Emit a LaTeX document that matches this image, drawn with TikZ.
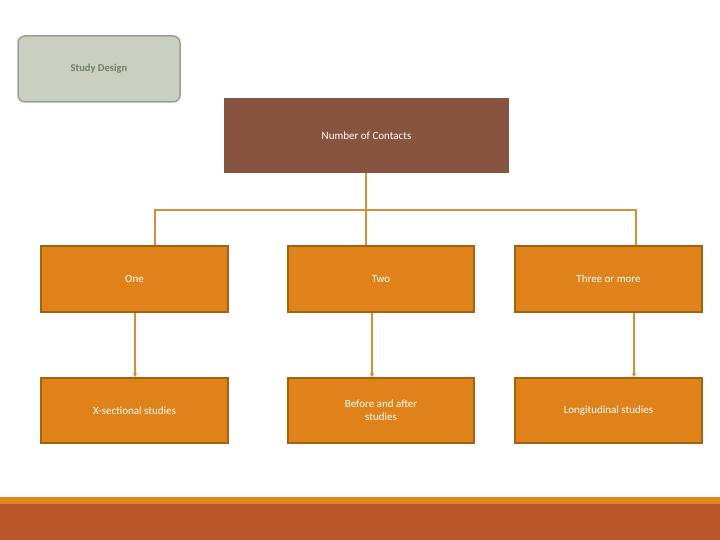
\documentclass[tikz,border=0pt]{standalone}
\usepackage{fontspec}
\setmainfont{Carlito}
\usetikzlibrary{arrows.meta}
\definecolor{topc}{HTML}{87553F}
\definecolor{orf}{HTML}{E0821A}
\definecolor{orb}{HTML}{A2620F}
\definecolor{conn}{HTML}{D0913A}
\definecolor{band}{HTML}{B9572A}
\definecolor{bandl}{HTML}{E0861A}
\definecolor{sdf}{HTML}{C9D0C2}
\definecolor{sdb}{HTML}{9A9E90}
\definecolor{sdt}{HTML}{6F7F62}
\begin{document}
\begin{tikzpicture}[x=1pt,y=-1pt,
  obox/.style={draw=orb,line width=1.5pt,fill=orf,text=white,font=\fontsize{11}{13}\selectfont,align=center,inner sep=0pt},
  conline/.style={draw=conn,line width=1.3pt},
  arr/.style={conline,-{Triangle[length=4pt,width=4pt]}}]
\useasboundingbox (0,0) rectangle (720,540);
\node[draw=sdb,line width=1.5pt,fill=sdf,rounded corners=7pt,minimum width=162pt,minimum height=66pt,text=sdt,font=\bfseries\fontsize{10.5}{12}\selectfont] (sd) at (99,69) {Study Design};
\node[fill=topc,text=white,minimum width=285pt,minimum height=75pt,font=\fontsize{11}{13}\selectfont] (top) at (366.5,135.5) {Number of Contacts};
\node[obox,minimum width=187pt,minimum height=66pt] (one) at (134.5,279) {One};
\node[obox,minimum width=186pt,minimum height=66pt] (two) at (381,279) {Two};
\node[obox,minimum width=187pt,minimum height=66pt] (three) at (608.5,279) {Three or more};
\node[obox,minimum width=187pt,minimum height=65pt] (xs) at (134.5,410.5) {X-sectional studies};
\node[obox,minimum width=186pt,minimum height=65pt] (ba) at (381,410.5) {Before and after\\studies};
\node[obox,minimum width=187pt,minimum height=65pt] (lo) at (608.5,410.5) {Longitudinal studies};
\coordinate (hl) at (155,210);
\coordinate (hr) at (636,210);
\draw[conline] (top.south -| 366,0) -- (two.north -| 366,0);
\draw[conline] (one.north -| hl) -- (hl) -- (hr) -- (three.north -| hr);
\draw[arr] (one.south -| 135,0) -- (xs.north -| 135,0);
\draw[arr] (two.south -| 372,0) -- (ba.north -| 372,0);
\draw[arr] (three.south -| 634,0) -- (lo.north -| 634,0);
\fill[bandl] (0,497) rectangle (720,504);
\fill[band] (0,504) rectangle (720,540);
\end{tikzpicture}
\end{document}
